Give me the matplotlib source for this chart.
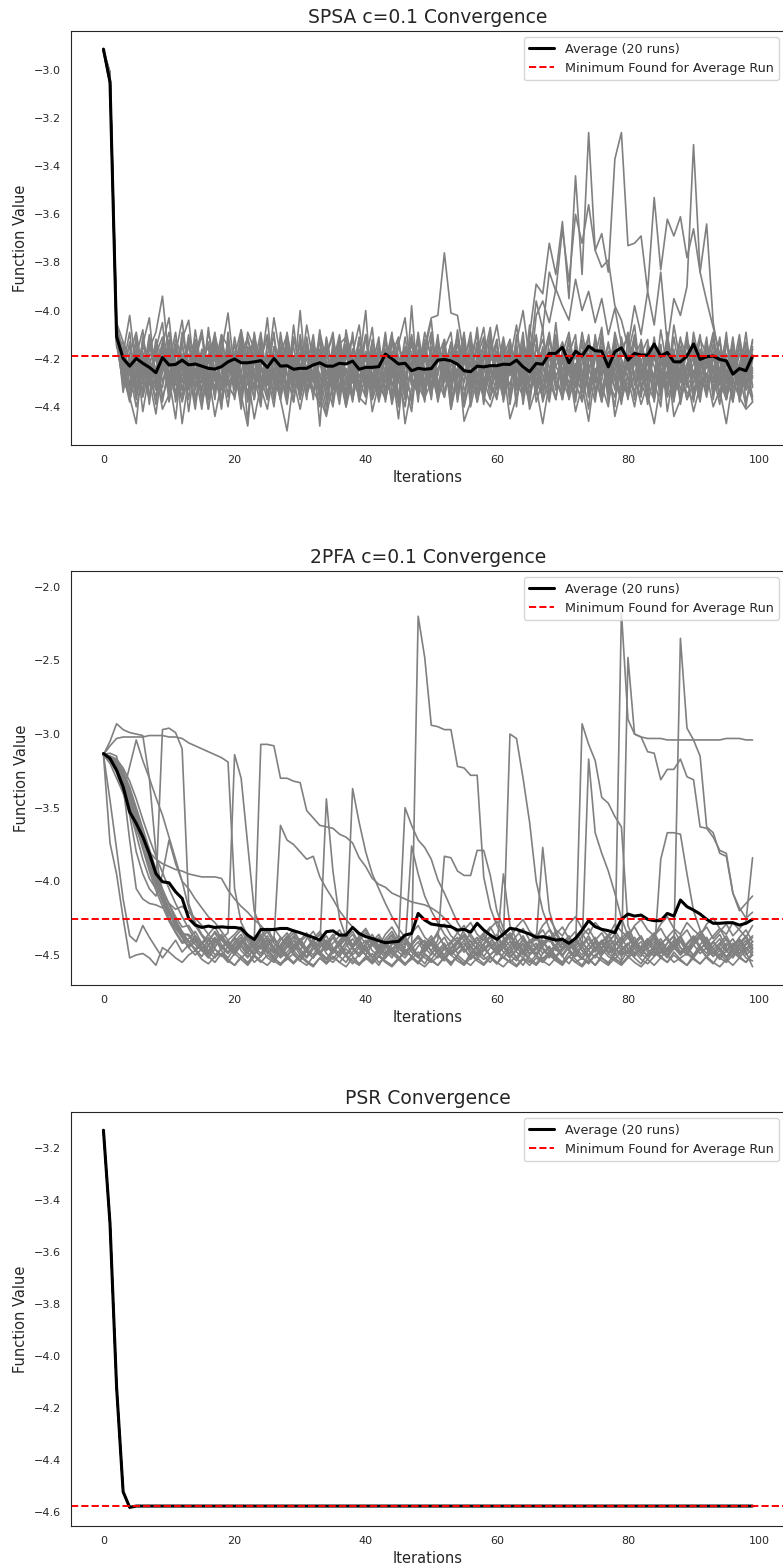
import matplotlib
matplotlib.use("Agg")
import matplotlib.pyplot as plt
import numpy as np
import seaborn as sns

sns.set_style("white")
plt.rcParams['font.family'] = ['DejaVu Sans']

iterations = np.arange(100)

# individual runs: each value is -(number / 100)
spsa_runs = [
    """292 303 409 425 431 418 442 426 433 415  428 445 419 432 424 436 428 413 440 421
       433 420 427 445 431 418 426 437 422 430  418 435 427 440 421 433 426 414 437 424
       430 418 436 425 412 429 440 421 434 417  426 433 419 441 428 415 436 422 430 418
       425 437 412 428 433 410 389 393 372 385  363 395 344 385 326 375 368 384 337 326
       373 372 369 392 353 383 362 369 361 378  366 384 364 405 421 430 418 426 433 419""",
    """292 304 412 421 437 426 418 429 443 423  417 430 437 425 441 419 424 432 418 436
       422 441 417 429 434 426 440 419 431 423  437 424 416 431 443 419 427 434 421 438
       426 413 430 437 424 445 419 428 434 412  431 419 426 434 417 440 428 422 436 409
       427 418 424 413 400 421 396 408 384 392  366 388 360 372 356 375 382 379 398 404
       415 398 410 392 406 384 414 395 402 390  331 384 396 407 418 426 438 422 430 416""",
    """292 302 404 428 436 447 418 430 425 441  435 421 447 428 413 439 426 444 430 418
       426 435 448 419 432 441 424 437 450 429  441 427 419 436 444 430 422 440 428 435
       418 442 430 425 437 421 447 432 427 415  403 402 376 401 402 419 412 428 436 440
       431 424 445 436 420 441 432 447 430 426  437 423 442 431 446 425 438 421 444 432
       428 440 425 435 447 430 421 444 437 428  442 431 426 440 433 447 429 436 441 438""",
    """292 303 410 418 402 425 433 416 409 394  421 436 412 404 428 419 441 423 410 415
       430 408 422 437 414 426 403 419 432 411  424 417 435 409 421 428 413 440 418 406
       427 433 415 422 409 436 420 411 429 417  404 431 423 414 438 419 426 407 430 421
       412 434 418 425 409 437 422 416 428 405  431 419 424 413 436 410 427 421 415 433
       418 406 429 422 414 437 411 425 420 432  409 423 416 435 427 412 430 418 424 415""",
    """292 305 412 425 431 419 408 436 427 414  403 429 418 442 421 410 433 425 417 401
       426 438 415 422 409 430 424 412 437 419  428 406 421 434 418 411 427 440 416 423
       410 432 419 425 437 414 403 428 421 436  418 427 412 441 424 409 431 420 415 433
       425 417 436 410 422 429 402 396 405 391  398 404 387 400 392 405 395 410 399 414
       423 410 435 419 428 414 442 425 411 430  417 436 421 409 428 433 415 426 440 420""",
    """292 301 405 413 420 436 411 424 439 417  428 412 419 433 408 425 441 416 422 430
       411 427 435 418 424 403 431 420 414 438  419 425 410 432 427 416 434 408 423 429
       436 413 421 428 417 440 422 411 430 419  425 437 416 409 433 421 428 414 439 418
       406 424 431 419 427 412 435 423 410 428  420 433 415 426 441 413 422 430 418 425
       434 411 428 417 423 436 409 431 420 414  427 438 419 425 412 430 421 435 416 426""",
    """292 304 414 430 418 409 426 437 412 421  435 418 404 427 431 416 422 409 438 425
       417 431 424 410 428 437 415 421 433 406  429 420 414 436 411 425 439 418 430 413
       421 407 434 419 426 412 431 442 417 424  436 415 422 430 408 427 418 435 412 429
       419 433 421 406 428 439 414 424 431 417  425 411 436 422 418 430 409 427 440 415
       412 428 420 434 417 425 431 406 422 437  430 416 424 411 436 420 427 414 433 419""",
    """292 306 409 421 437 425 414 403 430 424  412 438 426 415 421 434 407 429 418 431
       436 419 411 427 440 414 422 431 409 425  413 432 426 418 437 422 410 428 434 416
       424 418 429 436 413 421 433 410 425 438  411 429 436 417 422 413 440 427 419 407
       431 422 414 429 436 418 411 433 425 410  437 416 428 409 423 434 419 426 413 431
       419 437 412 426 432 408 424 438 415 429  422 410 433 418 425 437 413 429 420 436""",
    """292 303 411 427 413 432 420 428 416 405  431 423 437 411 418 426 434 412 425 440
       419 408 431 426 413 437 420 429 411 423  436 414 429 408 433 420 416 438 425 412
       430 423 411 438 420 427 415 431 409 426  433 418 427 413 436 422 409 431 424 417
       428 413 439 421 416 432 425 407 436 420  414 427 432 418 411 436 423 414 429 438
       426 419 413 431 437 420 415 433 427 409  435 421 428 414 431 409 436 422 413 428""",
    """292 302 407 419 426 440 428 411 433 426  414 431 409 424 438 421 415 436 410 428
       423 435 418 413 431 419 437 409 426 432  410 427 435 421 414 438 423 411 429 420
       433 416 427 409 435 422 430 417 438 413  428 419 412 433 418 440 415 426 431 421
       414 436 425 418 430 406 427 421 435 412  429 418 410 437 426 415 431 440 418 424
       433 422 416 429 411 434 418 427 436 412  420 431 414 427 439 418 424 410 430 437""",
    """292 305 413 428 435 416 423 430 419 438  422 409 430 418 426 441 420 413 431 417
       428 414 437 425 419 410 428 436 418 421  415 434 419 427 440 413 424 431 409 436
       418 426 437 413 423 430 411 428 435 420  409 432 421 428 414 425 436 418 407 430
       437 419 412 433 421 424 410 438 428 415  432 424 419 428 410 433 426 417 422 439
       411 428 436 414 420 427 435 418 430 422  416 425 436 420 413 428 411 433 427 412""",
    """292 301 410 423 409 434 430 422 414 436  427 416 421 437 412 430 418 425 441 409
       431 426 412 420 435 428 409 437 421 415  432 411 428 419 425 433 417 429 436 422
       400 437 421 430 418 411 436 424 413 431  427 410 434 425 419 430 412 438 426 415
       421 430 416 440 412 425 433 417 429 437  418 409 427 434 421 413 437 425 411 428
       436 426 418 412 435 421 428 416 439 424  413 434 422 430 417 425 438 412 423 431""",
    """292 304 412 431 424 417 435 414 425 413  438 425 414 430 419 408 427 433 419 426
       414 430 421 437 416 425 433 418 410 431  422 437 413 428 419 409 432 424 438 417
       436 412 425 417 430 438 423 414 427 409  420 435 413 429 424 436 419 410 433 426
       417 428 433 413 439 421 429 436 412 423  429 436 413 425 431 419 407 435 420 427
       414 421 430 437 412 429 420 433 418 431  427 412 418 432 424 411 429 436 419 424""",
    """292 303 406 417 430 428 417 439 412 430  419 434 427 410 433 422 413 428 437 416
       425 413 447 409 426 420 436 415 427 438  417 428 420 413 431 426 411 437 419 431
       428 421 438 426 411 419 428 436 420 414  434 424 419 437 410 427 423 416 438 412
       425 411 427 420 434 414 438 429 418 433  421 430 425 413 428 438 416 432 409 420
       428 434 421 439 426 415 433 411 427 418  438 419 430 423 436 414 420 427 409 432""",
    """292 306 415 422 415 431 412 427 436 420  409 426 433 421 415 437 424 418 429 412
       437 420 426 431 411 436 415 428 420 434  428 415 437 410 429 423 436 417 412 428
       419 430 413 436 427 415 421 439 416 433  422 413 430 417 432 418 426 438 421 410
       433 425 418 427 413 436 420 412 424 437  416 434 422 430 415 427 438 419 433 411
       425 417 433 421 429 440 412 424 436 427  419 431 413 426 420 434 417 438 425 413""",
    """292 302 409 426 438 422 429 410 427 432  416 420 438 427 412 424 431 410 422 435
       420 434 409 416 438 413 427 433 416 422  435 423 418 448 412 437 419 425 430 411
       426 434 418 422 439 427 416 420 431 437  415 438 425 420 411 433 429 413 422 436
       429 416 437 424 418 430 415 427 438 420  413 422 438 417 432 424 429 413 426 435
       430 413 425 420 438 417 436 429 412 419  433 426 411 437 418 422 435 424 431 416""",
    """292 304 411 414 427 413 436 425 418 411  433 417 425 413 436 428 409 421 415 430
       426 437 418 433 420 411 430 424 437 413  416 425 433 439 421 430 414 411 427 436
       439 420 432 416 428 423 437 398 433 418  424 417 436 422 428 411 433 421 429 437
       412 438 423 431 417 426 433 420 409 429  436 419 431 412 436 420 415 438 424 419
       409 431 427 416 433 423 418 437 424 413  428 417 435 419 429 437 422 415 438 427""",
    """292 303 408 434 419 437 421 431 428 422  420 427 413 432 428 417 437 428 433 419
       431 416 428 412 432 424 418 430 413 427  412 433 425 416 430 440 421 434 416 424
       417 428 436 410 431 425 429 413 420 436  430 421 417 438 426 415 422 434 417 423
       436 423 426 416 431 413 428 433 420 418  427 413 430 438 424 417 433 421 428 436
       420 435 416 428 413 434 427 419 433 425  412 428 433 417 436 429 419 431 414 420""",
    """292 305 413 420 433 410 428 418 420 429  425 436 420 415 421 433 419 437 412 425
       418 427 434 421 429 418 411 426 439 419  433 417 430 421 436 415 428 420 411 433
       410 437 429 419 424 436 415 431 425 418  437 412 428 433 417 446 438 419 411 431
       423 431 414 437 425 418 431 415 429 423  418 437 426 419 433 428 412 429 436 421
       437 418 432 426 419 427 411 435 425 437  425 436 420 429 411 437 425 418 422 438""",
    """292 301 410 427 421 435 415 420 431 416  429 414 433 422 418 429 436 414 424 431
       427 410 438 417 423 431 424 435 418 429  400 430 421 437 416 428 433 415 425 420
       431 424 416 433 419 439 426 422 411 430  418 431 425 414 437 421 418 429 435 424
       430 427 419 422 428 435 421 437 416 431  433 425 418 431 420 413 436 424 421 430
       418 427 439 430 418 432 425 417 428 434  437 424 418 433 426 420 432 427 418 425""",
]

pfa_runs = [
    """314 374 395 425 452 450 449 452 457 445  448 452 455 450 447 453 456 451 449 454
       457 452 448 455 451 446 452 456 453 449  454 457 451 448 452 455 450 446 451 456
       453 449 455 452 447 451 456 453 448 452  455 451 446 450 454 457 452 449 453 450
       446 452 455 451 448 454 457 452 449 453  456 451 447 452 455 450 446 451 454 457
       452 448 453 456 451 447 450 455 452 449  453 456 451 448 452 455 450 446 452 454""",
    """314 345 378 412 437 441 430 438 445 452  446 440 448 443 437 445 450 441 436 444
       449 442 437 446 451 443 438 447 452 444  439 446 450 442 437 445 449 441 436 444
       450 443 438 447 452 444 439 446 451 443  437 445 450 442 438 446 451 443 437 444
       449 441 436 445 450 442 438 446 452 444  439 447 451 443 437 445 450 442 436 444
       449 441 437 446 451 443 438 445 450 442  437 444 449 441 436 445 450 443 438 446""",
    """314 305 293 297 299 300 301 330 380 412  425 432 438 444 440 447 443 450 446 441
       448 444 451 447 442 449 445 452 448 443  450 446 441 448 453 447 442 449 445 451
       446 442 449 444 450 447 441 448 452 445  441 448 444 450 446 442 449 453 447 443
       450 445 441 448 452 446 442 449 445 451  447 442 449 453 446 441 448 444 450 446
       442 449 445 451 447 443 450 446 441 448  452 446 442 449 445 451 447 443 450 446""",
    """314 308 303 302 302 302 302 301 301 301  302 302 303 306 308 310 312 314 316 319
       405 428 437 442 446 440 448 444 450 446  441 448 452 445 440 447 451 444 439 446
       450 443 447 452 446 441 448 445 451 447  442 449 453 446 441 448 444 450 446 442
       449 445 451 447 443 450 446 441 448 452  445 441 448 444 450 447 442 449 445 451
       446 442 449 453 447 441 448 444 450 446  443 449 445 451 447 442 448 452 446 441""",
    """314 318 325 338 352 368 385 398 405 297  296 299 310 415 428 436 441 434 440 445
       438 443 449 441 436 444 448 440 435 443  447 439 434 442 446 438 433 441 445 437
       432 440 444 436 431 439 443 435 430 438  442 434 429 437 441 433 428 436 440 432
       427 435 439 431 426 434 438 430 425 433  437 429 424 432 436 428 433 437 429 434
       438 430 426 433 437 429 424 432 436 428  433 437 429 425 432 436 428 433 438 430""",
    """314 320 330 340 322 304 318 330 343 355  370 385 400 418 430 437 443 438 445 449
       443 438 446 450 444 439 447 451 445 440  448 452 446 441 449 453 447 442 450 445
       440 447 451 445 440 448 452 446 441 449  453 447 442 450 445 440 447 451 446 441
       448 452 446 441 449 444 450 455 448 443  450 445 440 447 452 446 441 449 453 447
       442 450 445 441 448 452 446 442 449 444  451 446 441 448 453 447 442 449 445 450""",
    """314 315 318 326 338 352 367 383 398 412  422 430 437 441 446 441 448 452 445 440
       447 451 456 449 444 452 455 448 443 450  454 447 442 449 453 446 451 455 448 443
       450 454 447 442 449 453 446 451 455 448  443 450 454 447 452 456 449 444 451 455
       448 443 450 454 447 452 456 449 444 451  455 448 453 457 450 445 452 456 449 454
       447 452 456 449 444 451 455 448 453 457  450 445 452 456 449 454 447 451 455 448""",
    """314 316 321 330 342 356 370 384 396 406  415 424 431 430 437 442 436 431 439 444
       438 433 441 446 439 434 442 447 440 435  443 448 441 436 444 449 442 437 445 440
       435 443 448 441 436 444 449 442 437 445  450 443 438 446 441 436 444 449 442 437
       445 440 435 443 448 441 436 444 439 434  442 447 440 435 443 448 441 436 444 439
       434 442 447 440 435 443 438 433 441 446  439 434 442 437 432 440 445 438 433 441""",
    """314 315 317 323 332 344 358 371 383 394  405 415 424 432 440 447 452 446 450 455
       449 453 457 451 455 450 454 457 452 456  451 455 458 452 456 451 455 450 454 457
       452 456 451 455 458 453 457 452 456 450  454 457 451 455 452 456 450 454 457 452
       456 451 455 458 453 457 452 455 450 454  457 451 455 452 456 450 454 457 452 456
       451 455 458 453 457 452 455 450 454 457  452 456 451 455 458 453 457 452 455 450""",
    """314 317 323 332 345 360 376 390 403 414  425 434 441 439 434 442 447 440 444 449
       443 438 446 441 436 444 449 443 437 445  440 435 443 448 442 436 444 439 434 442
       447 441 436 444 439 445 450 443 438 446  441 436 444 449 442 437 445 440 435 443
       448 442 437 445 440 446 451 444 439 447  442 437 445 450 443 438 446 441 436 444
       449 443 438 446 441 447 452 445 440 448  443 438 446 441 447 452 445 440 448 443""",
    """314 313 315 335 372 405 412 415 416 418  415 419 417 421 425 430 436 441 437 443
       447 441 436 444 449 442 438 446 451 444  439 447 452 445 440 448 443 438 446 451
       444 439 447 442 437 445 450 443 438 446  441 436 444 449 442 437 445 450 443 438
       446 441 447 452 445 440 440 377 420 436  443 438 446 441 447 452 445 440 448 443
       438 446 451 444 439 447 442 437 445 450  443 438 446 441 447 452 445 440 448 458""",
    """314 318 326 340 355 380 395 405 410 395  372 388 400 405 412 418 424 428 434 440
       436 431 439 444 437 432 440 445 438 433  441 446 439 434 442 447 440 435 443 438
       433 441 446 439 434 442 445 376 395 410  420 428 436 441 435 430 438 443 436 431
       439 444 437 432 440 445 438 433 441 436  431 439 444 437 432 440 445 438 433 441
       436 431 439 444 437 432 440 445 438 433  441 436 431 439 434 429 437 432 427 384""",
    """314 316 321 333 350 365 375 380 385 388  390 392 393 395 396 397 397 397 398 406
       412 417 421 426 430 435 432 438 443 437  442 447 440 436 444 448 441 437 445 449
       442 438 446 450 443 439 447 451 444 440  448 452 445 441 449 444 440 447 451 445
       441 448 452 446 442 449 444 440 447 451  445 441 448 452 446 442 449 444 440 447
       451 445 441 448 450 385 367 367 368 395  420 433 440 446 442 448 443 439 446 441""",
    """314 315 319 327 340 354 368 382 396 408  420 430 438 445 441 446 450 444 439 435
       314 330 375 420 432 440 445 438 443 448  441 437 445 450 443 438 446 451 444 439
       447 452 445 440 448 443 438 446 451 444  439 447 452 445 440 448 443 438 446 450
       445 395 430 440 447 442 437 445 450 443  438 446 451 444 439 447 442 437 445 450
       443 438 446 451 444 439 447 442 437 445  450 443 438 446 451 444 439 447 442 437""",
    """314 316 320 329 341 355 371 386 399 410  420 428 435 437 443 447 440 445 438 442
       446 440 444 440 307 307 308 330 330 332  333 352 357 362 363 364 368 370 374 384
       390 398 402 404 408 410 412 414 415 416  418 421 425 430 435 440 436 442 447 441
       436 444 449 442 437 445 450 443 438 446  451 444 439 447 452 445 440 448 443 438
       446 451 444 439 447 452 445 440 448 443  438 446 451 444 439 447 452 445 440 448""",
    """314 315 318 325 336 350 364 378 392 405  416 426 434 441 439 444 449 442 437 445
       450 443 438 446 451 444 440 362 372 375  380 385 383 397 405 412 420 426 431 437
       442 436 444 449 442 437 440 445 220 248  294 295 297 297 322 323 328 328 397 418
       430 438 444 437 432 440 445 438 433 441  446 439 434 442 447 440 435 443 448 441
       436 444 449 442 437 445 450 443 438 446  441 436 444 449 442 437 445 450 443 438""",
    """314 317 324 334 348 363 378 393 406 417  427 435 442 441 446 451 444 439 447 452
       445 440 448 443 438 446 451 444 439 447  452 445 440 445 344 393 425 438 445 440
       447 452 445 440 448 442 350 362 372 377  385 399 408 418 428 435 441 446 439 444
       449 440 300 303 330 360 400 420 432 439  445 440 447 293 307 318 343 347 356 363
       430 441 446 439 444 449 442 437 445 450  443 438 446 451 444 439 447 442 437 445""",
    """314 315 320 328 340 353 367 381 395 408  419 428 436 436 441 446 440 435 443 448
       441 436 444 449 442 437 445 450 443 438  446 451 444 439 447 442 437 440 337 360
       380 395 405 415 424 432 438 444 437 442  447 440 383 384 393 396 396 379 379 396
       420 432 440 446 439 444 449 442 437 445  450 443 438 445 317 367 381 393 408 425
       437 444 449 442 437 445 450 443 235 296  304 315 363 367 381 383 408 420 415 410""",
    """314 316 321 330 343 357 372 387 400 411  421 430 438 445 450 446 451 455 449 453
       457 451 455 450 454 457 452 456 451 455  450 454 457 452 456 451 455 458 452 456
       451 455 450 454 457 452 456 451 455 458  453 457 452 456 450 454 457 452 456 451
       455 458 453 457 452 455 450 454 457 452  456 451 455 458 453 457 452 455 450 217
       290 300 302 303 303 303 304 304 304 304  304 304 304 304 304 303 303 303 304 304""",
    """314 315 319 328 340 355 370 385 399 410  420 428 435 441 447 443 438 446 451 444
       439 447 452 445 440 448 453 446 441 449  454 447 442 450 455 448 443 451 456 449
       444 452 457 450 445 453 448 443 451 456  449 444 452 457 450 445 453 448 443 451
       456 449 444 452 457 450 445 453 448 443  451 456 449 444 452 457 450 445 453 455
       248 300 302 312 313 331 324 324 317 329  331 363 364 370 379 381 408 418 425 421""",
]

# average curves
spsa_avg = [
    -2.913, -3.050, -4.108, -4.199, -4.231, -4.199, -4.219, -4.236, -4.258, -4.195,
    -4.226, -4.224, -4.206, -4.226, -4.222, -4.231, -4.240, -4.243, -4.233, -4.213,
    -4.201, -4.217, -4.217, -4.213, -4.208, -4.236, -4.199, -4.231, -4.229, -4.244,
    -4.240, -4.240, -4.226, -4.217, -4.231, -4.231, -4.219, -4.222, -4.210, -4.244,
    -4.236, -4.236, -4.233, -4.181, -4.200, -4.222, -4.219, -4.250, -4.240, -4.244,
    -4.241, -4.206, -4.203, -4.209, -4.223, -4.250, -4.254, -4.231, -4.234, -4.229,
    -4.229, -4.223, -4.224, -4.206, -4.234, -4.254, -4.220, -4.223, -4.178, -4.178,
    -4.153, -4.217, -4.169, -4.189, -4.148, -4.167, -4.169, -4.234, -4.171, -4.155,
    -4.206, -4.178, -4.185, -4.185, -4.139, -4.189, -4.174, -4.213, -4.213, -4.189,
    -4.139, -4.203, -4.192, -4.189, -4.203, -4.209, -4.264, -4.241, -4.250, -4.189,
]

pfa_avg = [
    -3.132, -3.166, -3.245, -3.358, -3.528, -3.607, -3.698, -3.811, -3.947, -4.003,
    -4.010, -4.071, -4.116, -4.252, -4.297, -4.313, -4.304, -4.313, -4.309, -4.313,
    -4.313, -4.320, -4.365, -4.395, -4.327, -4.327, -4.327, -4.320, -4.320, -4.336,
    -4.349, -4.365, -4.381, -4.399, -4.342, -4.336, -4.365, -4.365, -4.313, -4.354,
    -4.376, -4.388, -4.404, -4.417, -4.412, -4.408, -4.365, -4.354, -4.218, -4.263,
    -4.290, -4.297, -4.303, -4.308, -4.331, -4.326, -4.346, -4.285, -4.331, -4.365,
    -4.394, -4.358, -4.319, -4.326, -4.342, -4.358, -4.380, -4.376, -4.387, -4.399,
    -4.394, -4.421, -4.387, -4.331, -4.267, -4.308, -4.326, -4.335, -4.349, -4.258,
    -4.222, -4.236, -4.229, -4.258, -4.267, -4.267, -4.218, -4.236, -4.127, -4.172,
    -4.195, -4.222, -4.258, -4.285, -4.285, -4.281, -4.281, -4.297, -4.285, -4.258,
]

psr_plateau = -4.578
psr_avg = [-3.132, -3.491, -4.119, -4.523, -4.583] + [psr_plateau] * 95


def parse_run(txt):
    vals = -np.array(txt.split(), dtype=float) / 100.0
    assert len(vals) == 100, len(vals)
    return vals


panels = [
    ("SPSA c=0.1 Convergence", [parse_run(t) for t in spsa_runs], spsa_avg, (-4.559, -2.838)),
    ("2PFA c=0.1 Convergence", [parse_run(t) for t in pfa_runs], pfa_avg, (-4.704, -1.893)),
    ("PSR Convergence", [np.array(psr_avg)] * 20, psr_avg, (-4.655, -3.062)),
]

fig = plt.figure(figsize=(7.83, 15.66), dpi=100)
bottoms = [0.7158, 0.3710, 0.0255]

for (title, runs, avg, ylim), b in zip(panels, bottoms):
    ax = fig.add_axes([71 / 783, b, 714 / 783, 414 / 1566])
    for run in runs:
        ax.plot(iterations, run, color='gray', lw=1.2)
    ax.plot(iterations, avg, color='black', lw=2.2, label='Average (20 runs)')
    ax.axhline(avg[-1], color='red', ls='--', lw=1.4, label='Minimum Found for Average Run')
    ax.set_xlim(-4.95, 103.95)
    ax.set_ylim(*ylim)
    ax.set_xticks([0, 20, 40, 60, 80, 100])
    ax.tick_params(labelsize=8)
    ax.set_title(title, fontsize=13.5)
    ax.set_xlabel("Iterations", fontsize=10.5)
    ax.set_ylabel("Function Value", fontsize=10.5)
    ax.legend(loc='upper right', fontsize=9.2)

fig.savefig("out.png", dpi=100)
